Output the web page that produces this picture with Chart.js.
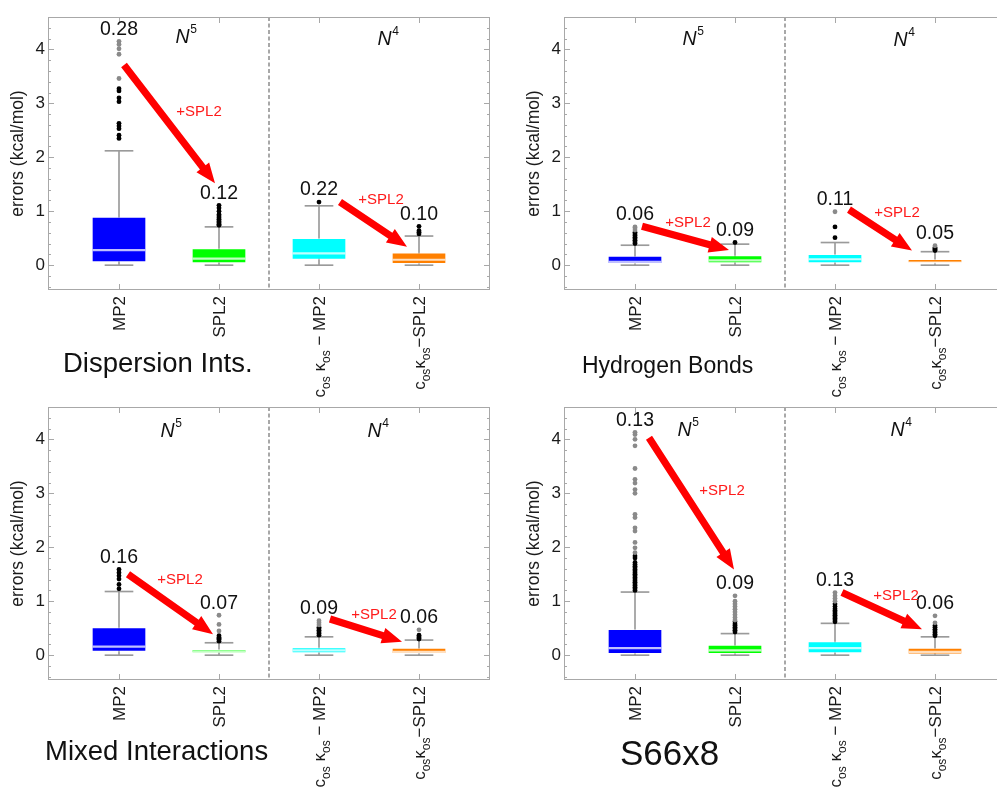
<!DOCTYPE html>
<html>
<head>
<meta charset="utf-8">
<script src="https://cdn.jsdelivr.net/npm/chart.js@4.4.1/dist/chart.umd.min.js"></script>
<style>
  html, body { margin: 0; padding: 0; background: #fff; width: 997px; height: 787px; overflow: hidden; }
  canvas { position: absolute; }
</style>
</head>
<body>
<canvas id="disp" width="500" height="400" style="left:0;top:0"></canvas>
<canvas id="hb" width="500" height="400" style="left:516px;top:0"></canvas>
<canvas id="mix" width="500" height="400" style="left:0;top:390px"></canvas>
<canvas id="s66" width="500" height="400" style="left:516px;top:390px"></canvas>
<script>
// categories / tick labels (_{..} = subscript)
const categories = ['MP2', 'SPL2', 'cosMP2', 'cosSPL2'];
const tickLabels = ['MP2', 'SPL2', 'c_{os} κ_{os} − MP2', 'c_{os}κ_{os}−SPL2'];
const yTicks = [0, 1, 2, 3, 4];

// Dispersion Ints.
const dispLow = [0, 0, 0, 0];
const dispQ1 = [0.06, 0.04, 0.105, 0.03];
const dispMed = [0.28, 0.12, 0.22, 0.10];
const dispQ3 = [0.89, 0.31, 0.50, 0.23];
const dispHigh = [2.12, 0.71, 1.10, 0.54];
const dispOut = [[2.35, 2.41, 2.53, 2.58, 2.63, 3.03, 3.10, 3.23, 3.27], [0.74, 0.76, 0.78, 0.80, 0.82, 0.85, 0.88, 0.91, 0.94, 1.00, 1.06, 1.11], [1.17], [0.58, 0.61, 0.64, 0.72]];
const dispFar = [[3.46, 3.91, 4.01, 4.09, 4.15], [], [], []];

// Hydrogen Bonds
const hbLow = [0, 0, 0, 0];
const hbQ1 = [0.03, 0.04, 0.04, 0.04];
const hbMed = [0.06, 0.09, 0.11, 0.05];
const hbQ3 = [0.17, 0.18, 0.20, 0.11];
const hbHigh = [0.37, 0.39, 0.42, 0.25];
const hbOut = [[0.40, 0.43, 0.46, 0.49, 0.52, 0.55, 0.58, 0.61], [0.42], [0.51, 0.71], [0.27, 0.29, 0.31, 0.33]];
const hbFar = [[0.65, 0.69, 0.71], [], [0.99], [0.36]];

// Mixed Interactions
const mixLow = [0, 0, 0, 0];
const mixQ1 = [0.07, 0.04, 0.04, 0.03];
const mixMed = [0.16, 0.07, 0.09, 0.06];
const mixQ3 = [0.51, 0.11, 0.14, 0.13];
const mixHigh = [1.18, 0.23, 0.34, 0.28];
const mixOut = [[1.23, 1.31, 1.41, 1.47, 1.53, 1.59], [0.26, 0.29, 0.31, 0.33, 0.36], [0.37, 0.40, 0.43, 0.46, 0.49, 0.52], [0.30, 0.32, 0.34, 0.37]];
const mixFar = [[], [0.45, 0.57, 0.74], [0.56, 0.60, 0.64], [0.47]];

// S66x8
const s66Low = [0, 0, 0, 0];
const s66Q1 = [0.03, 0.03, 0.04, 0.02];
const s66Med = [0.13, 0.09, 0.13, 0.06];
const s66Q3 = [0.48, 0.185, 0.25, 0.13];
const s66High = [1.17, 0.40, 0.59, 0.34];
const s66Out = [[1.20, 1.23, 1.26, 1.29, 1.32, 1.35, 1.38, 1.41, 1.44, 1.47, 1.50, 1.53, 1.56, 1.59, 1.62, 1.65, 1.68, 1.72, 1.80, 1.84], [0.43, 0.46, 0.49, 0.52, 0.55, 0.58, 0.62], [0.62, 0.65, 0.68, 0.71, 0.74, 0.77, 0.80, 0.83, 0.86, 0.90, 0.95], [0.36, 0.39, 0.42, 0.45, 0.48, 0.52, 0.55]];
const s66Far = [[1.90, 1.99, 2.09, 2.30, 2.36, 2.55, 2.61, 3.00, 3.07, 3.19, 3.26, 3.46, 3.88, 4.00, 4.09, 4.13], [0.65, 0.70, 0.75, 0.80, 0.85, 0.90, 0.95, 1.00, 1.10], [1.00, 1.05, 1.10, 1.16], [0.60, 0.73]];

const FONT = '"Liberation Sans", Arial, sans-serif';
const boxColors = ['#0000ff', '#00ff00', '#00ffff', '#ff8000'];

// panel layout: title, annotations (in data coords of each panel)
const panels = [
  { id: 'disp', title: 'Dispersion Ints.', tx: 63, ty: 372, ts: 27.5,
    low: dispLow, q1: dispQ1, med: dispMed, q3: dispQ3, high: dispHigh, out: dispOut, far: dispFar,
    n5: [1.67, 4.11], n4: [3.69, 4.09],
    arrows: [[1.05, 3.71, 1.96, 1.52], [3.21, 1.17, 3.88, 0.34]],
    plus: [[1.80, 2.84], [3.62, 1.21]] },
  { id: 'hb', title: 'Hydrogen Bonds', tx: 66, ty: 372.5, ts: 23,
    low: hbLow, q1: hbQ1, med: hbMed, q3: hbQ3, high: hbHigh, out: hbOut, far: hbFar,
    n5: [1.58, 4.08], n4: [3.69, 4.06],
    arrows: [[1.07, 0.72, 1.94, 0.28], [3.14, 1.03, 3.77, 0.27]],
    plus: [[1.53, 0.79], [3.62, 0.97]] },
  { id: 'mix', title: 'Mixed Interactions', tx: 45, ty: 370, ts: 27.5,
    low: mixLow, q1: mixQ1, med: mixMed, q3: mixQ3, high: mixHigh, out: mixOut, far: mixFar,
    n5: [1.52, 4.05], n4: [3.59, 4.05],
    arrows: [[1.09, 1.50, 1.94, 0.39], [3.11, 0.67, 3.83, 0.25]],
    plus: [[1.61, 1.40], [3.55, 0.75]] },
  { id: 's66', title: 'S66x8', tx: 104, ty: 375, ts: 35,
    low: s66Low, q1: s66Q1, med: s66Med, q3: s66Q3, high: s66High, out: s66Out, far: s66Far,
    n5: [1.53, 4.07], n4: [3.66, 4.07],
    arrows: [[1.14, 4.03, 1.99, 1.59], [3.07, 1.16, 3.87, 0.48]],
    plus: [[1.87, 3.04], [3.61, 1.10]] }
];

function parseRich(s) {
  const segs = [];
  const re = /_\{([^}]*)\}/g;
  let last = 0, m;
  while ((m = re.exec(s))) {
    if (m.index > last) segs.push({ t: s.slice(last, m.index), sub: false });
    segs.push({ t: m[1], sub: true });
    last = re.lastIndex;
  }
  if (last < s.length) segs.push({ t: s.slice(last), sub: false });
  return segs;
}

function drawTickLabel(ctx, s, px, py) {
  const segs = parseRich(s);
  ctx.save();
  ctx.translate(px, py);
  ctx.rotate(-Math.PI / 2);
  ctx.textAlign = 'left';
  ctx.textBaseline = 'alphabetic';
  ctx.fillStyle = '#1a1a1a';
  let total = 0;
  segs.forEach(g => {
    ctx.font = (g.sub ? 12 : 17) + 'px ' + FONT;
    g.w = ctx.measureText(g.t).width;
    total += g.w;
  });
  let cx = -total;
  segs.forEach(g => {
    ctx.font = (g.sub ? 12 : 17) + 'px ' + FONT;
    ctx.fillText(g.t, cx, g.sub ? 10.5 : 6);
    cx += g.w;
  });
  ctx.restore();
}

function drawArrow(ctx, x1, y1, x2, y2) {
  const ang = Math.atan2(y2 - y1, x2 - x1);
  const len = Math.hypot(x2 - x1, y2 - y1);
  const hl = 20, hw = 8, sw = 3.6;
  ctx.save();
  ctx.translate(x1, y1);
  ctx.rotate(ang);
  ctx.beginPath();
  ctx.moveTo(0, -sw);
  ctx.lineTo(len - hl, -sw);
  ctx.lineTo(len - hl, -hw);
  ctx.lineTo(len, 0);
  ctx.lineTo(len - hl, hw);
  ctx.lineTo(len - hl, sw);
  ctx.lineTo(0, sw);
  ctx.closePath();
  ctx.fillStyle = '#ff0000';
  ctx.fill();
  ctx.restore();
}

function drawN(ctx, sup, cx, by) {
  ctx.save();
  ctx.fillStyle = '#111';
  ctx.textBaseline = 'alphabetic';
  ctx.textAlign = 'left';
  ctx.font = 'italic 19.5px ' + FONT;
  const wN = ctx.measureText('N').width;
  ctx.font = '12px ' + FONT;
  const wS = ctx.measureText(sup).width;
  const x0 = cx - (wN + wS) / 2;
  ctx.font = 'italic 19.5px ' + FONT;
  ctx.fillText('N', x0, by);
  ctx.font = '12px ' + FONT;
  ctx.fillText(sup, x0 + wN + 0.5, by - 10);
  ctx.restore();
}

function makeDeco(p) {
  return {
    id: 'deco',
    beforeDatasetsDraw(chart) {
      const { ctx, chartArea: a, scales: { x } } = chart;
      ctx.save();
      ctx.strokeStyle = '#8c8c8c';
      ctx.lineWidth = 1.5;
      ctx.setLineDash([4, 2.5]);
      const sx = Math.round(x.getPixelForValue(2.5));
      ctx.beginPath();
      ctx.moveTo(sx, a.top);
      ctx.lineTo(sx, a.bottom);
      ctx.stroke();
      ctx.restore();
    },
    afterDraw(chart) {
      const { ctx, chartArea: a, scales: { x, y } } = chart;
      ctx.save();
      // frame + frame ticks
      ctx.strokeStyle = '#a8a8a8';
      ctx.lineWidth = 1;
      ctx.strokeRect(a.left + 0.5, a.top + 0.5, a.right - a.left - 1, a.bottom - a.top - 1);
      ctx.beginPath();
      for (let k = -2; k <= 23; k++) {
        const v = k / 5;
        if (v < y.min || v > y.max) continue;
        const py = Math.round(y.getPixelForValue(v)) + 0.5;
        const len = k % 5 === 0 ? 6 : 3;
        ctx.moveTo(a.left, py); ctx.lineTo(a.left + len, py);
        ctx.moveTo(a.right, py); ctx.lineTo(a.right - len, py);
      }
      for (let i = 1; i <= categories.length; i++) {
        const px = Math.round(x.getPixelForValue(i)) + 0.5;
        ctx.moveTo(px, a.bottom); ctx.lineTo(px, a.bottom - 6);
        ctx.moveTo(px, a.top); ctx.lineTo(px, a.top + 6);
      }
      ctx.stroke();

      // category labels
      tickLabels.forEach((s, i) => drawTickLabel(ctx, s, x.getPixelForValue(i + 1), a.bottom + 6));

      // median value labels above the highest point
      ctx.fillStyle = '#111';
      ctx.font = '19.5px ' + FONT;
      ctx.textAlign = 'center';
      ctx.textBaseline = 'middle';
      p.med.forEach((m, i) => {
        const top = Math.max(p.high[i], ...p.out[i], ...p.far[i]);
        ctx.fillText(m.toFixed(2), x.getPixelForValue(i + 1), y.getPixelForValue(top) - 12);
      });

      // N^5 / N^4
      drawN(ctx, '5', x.getPixelForValue(p.n5[0]), y.getPixelForValue(p.n5[1]));
      drawN(ctx, '4', x.getPixelForValue(p.n4[0]), y.getPixelForValue(p.n4[1]));

      // arrows and +SPL2
      p.arrows.forEach(r => drawArrow(ctx, x.getPixelForValue(r[0]), y.getPixelForValue(r[1]),
        x.getPixelForValue(r[2]), y.getPixelForValue(r[3])));
      ctx.fillStyle = '#ff1a1a';
      ctx.font = '15px ' + FONT;
      ctx.textAlign = 'center';
      ctx.textBaseline = 'middle';
      p.plus.forEach(q => ctx.fillText('+SPL2', x.getPixelForValue(q[0]), y.getPixelForValue(q[1])));

      // panel title
      ctx.fillStyle = '#111';
      ctx.font = p.ts + 'px ' + FONT;
      ctx.textAlign = 'left';
      ctx.textBaseline = 'alphabetic';
      ctx.fillText(p.title, p.tx, p.ty);
      ctx.restore();
    }
  };
}

function pts(lists) {
  const r = [];
  lists.forEach((l, i) => l.forEach(v => r.push({ x: i + 1, y: v })));
  return r;
}

function bars(fn) {
  return categories.map((c, i) => ({ x: i + 1, y: fn(i) }));
}

panels.forEach(p => {
  const bar = { type: 'bar', grouped: false, borderWidth: 0, borderSkipped: false };
  new Chart(document.getElementById(p.id), {
    type: 'bar',
    data: {
      datasets: [
        Object.assign({}, bar, { data: bars(i => [p.low[i], p.high[i]]), backgroundColor: '#9a9a9a', barThickness: 1, order: 5 }),
        Object.assign({}, bar, { data: bars(i => [p.high[i] - 0.0093, p.high[i] + 0.0093]), backgroundColor: '#9a9a9a', barThickness: 28, order: 4 }),
        Object.assign({}, bar, { data: bars(i => [p.low[i] - 0.0093, p.low[i] + 0.0093]), backgroundColor: '#9a9a9a', barThickness: 28, order: 4 }),
        Object.assign({}, bar, { data: bars(i => [p.q1[i], p.q3[i]]), backgroundColor: boxColors, borderColor: 'rgba(255,255,255,0.45)', borderWidth: 1, barThickness: 54, order: 3 }),
        Object.assign({}, bar, { data: bars(i => [p.med[i] - 0.014, p.med[i] + 0.014]), backgroundColor: 'rgba(255,255,255,0.75)', barThickness: 52, order: 2 }),
        { type: 'scatter', data: pts(p.out), backgroundColor: '#000', borderWidth: 0, pointRadius: 2.4, order: 1 },
        { type: 'scatter', data: pts(p.far), backgroundColor: '#8a8a8a', borderWidth: 0, pointRadius: 2.4, order: 0 }
      ]
    },
    options: {
      responsive: false,
      animation: false,
      events: [],
      layout: { padding: { top: 17, right: 10, bottom: 0, left: 0 } },
      plugins: { legend: { display: false }, tooltip: { enabled: false } },
      scales: {
        x: {
          type: 'linear', min: 0.29, max: 4.71, offset: false,
          ticks: { display: false },
          grid: { display: false, drawTicks: false },
          border: { display: false },
          afterFit: s => { s.height = 110; }
        },
        y: {
          min: -0.46, max: 4.6,
          afterBuildTicks: s => { s.ticks = yTicks.map(v => ({ value: v })); },
          ticks: { font: { family: FONT, size: 17 }, color: '#1a1a1a', padding: 3 },
          grid: { display: false, drawTicks: false },
          border: { display: false },
          title: { display: true, text: 'errors (kcal/mol)', font: { family: FONT, size: 17.5 }, color: '#1a1a1a', padding: { top: 8, bottom: 0 } },
          afterFit: s => { s.width = 48; }
        }
      }
    },
    plugins: [makeDeco(p)]
  });
});
</script>
</body>
</html>
